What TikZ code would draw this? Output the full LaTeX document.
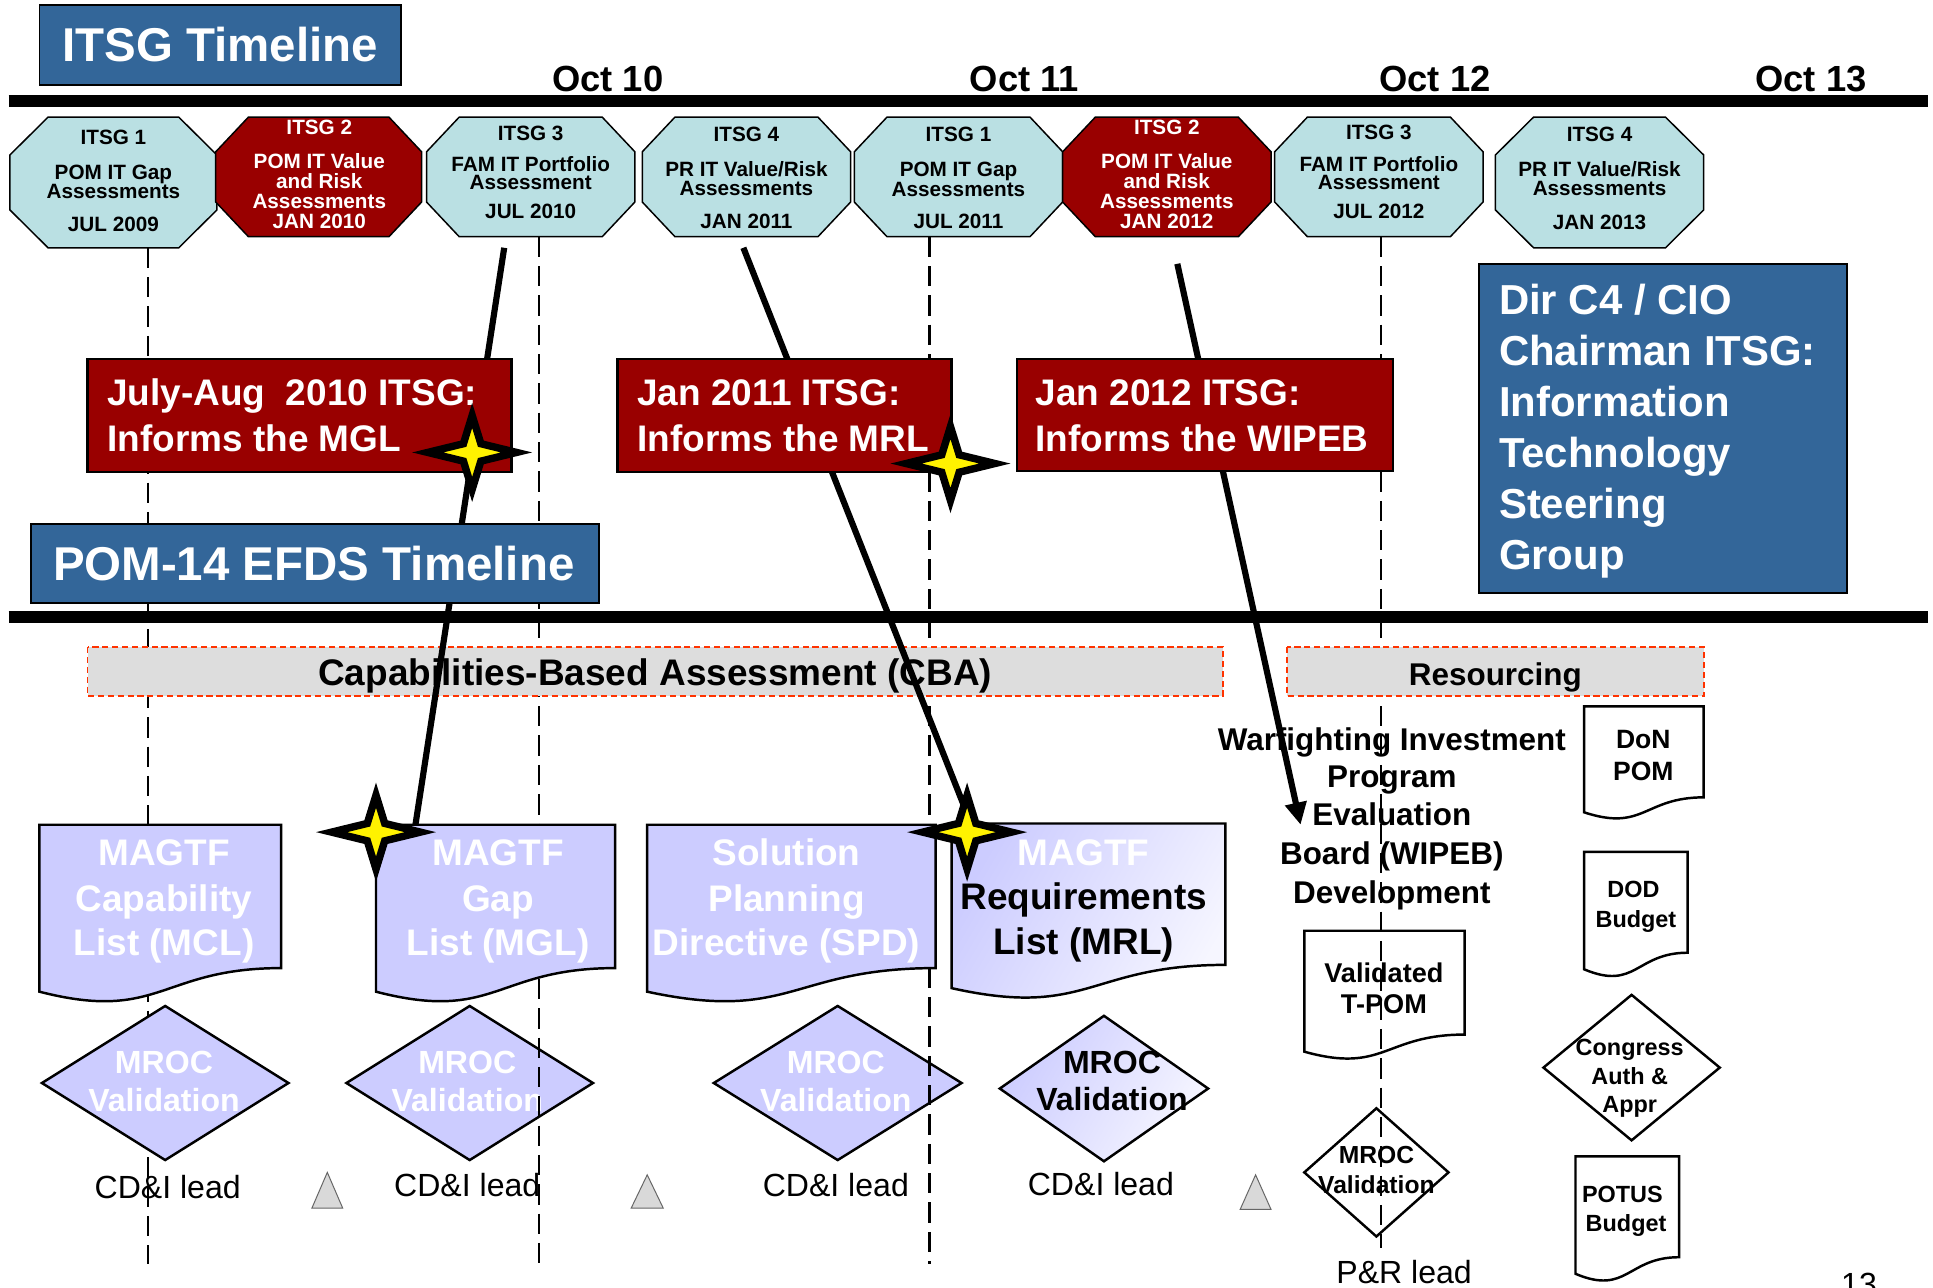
\documentclass[tikz,border=0pt]{standalone}
\usepackage{fontspec}
\setmainfont{Liberation Sans}
\usetikzlibrary{arrows.meta}
\definecolor{octblue}{RGB}{186,224,227}
\definecolor{itsgred}{RGB}{153,0,0}
\definecolor{hdrblue}{RGB}{51,102,153}
\definecolor{lav}{RGB}{204,204,255}
\definecolor{lavlight}{RGB}{246,246,255}
\definecolor{graybox}{RGB}{221,221,221}
\definecolor{dashred}{RGB}{255,51,0}
\definecolor{trifill}{RGB}{217,217,217}
\newcommand\fsz[1]{\fontsize{#1}{#1}\selectfont}
% octagon: style, x1, x2, ytop, ybottom, inset
\newcommand\octa[6]{\path[#1] ({#2+#6},#4) -- ({#3-#6},#4) -- (#3,{#4+0.29*(#5-#4)}) -- (#3,{#4+0.71*(#5-#4)}) -- ({#3-#6},#5) -- ({#2+#6},#5) -- (#2,{#4+0.71*(#5-#4)}) -- (#2,{#4+0.29*(#5-#4)}) -- cycle;}
% document: style, x, y, w, h
\newcommand\docshape[5]{\path[#1] (#2,#3) -- ({#2+#4},#3) -- ({#2+#4},{#3+0.802*#5}) .. controls ({#2+0.5*#4},{#3+0.802*#5}) and ({#2+0.5*#4},{#3+1.1075*#5}) .. (#2,{#3+0.934*#5}) -- cycle;}
% diamond: style, cx, cy, hw, hh
\newcommand\diam[5]{\path[#1] ({#2-#4},#3) -- (#2,{#3-#5}) -- ({#2+#4},#3) -- (#2,{#3+#5}) -- cycle;}
% four point star: cx, cy
\newcommand\fourstar[2]{\path[starst] ({#1+36},#2) -- ({#1+7.07},{#2+7.07}) -- (#1,{#2+30}) -- ({#1-7.07},{#2+7.07}) -- ({#1-36},#2) -- ({#1-7.07},{#2-7.07}) -- (#1,{#2-30}) -- ({#1+7.07},{#2-7.07}) -- cycle;}
\begin{document}
\begin{tikzpicture}[x=1pt,y=-1pt,
  every node/.style={inner sep=0pt,outer sep=0pt},
  octlight/.style={draw=black,line width=1.2pt,fill=octblue},
  octred/.style={draw=black,line width=1.2pt,fill=itsgred},
  octk/.style={anchor=base,text=black,font=\fsz{16.8}\bfseries},
  octw/.style={octk,text=white},
  vdash/.style={draw=black,line width=1.9pt,dash pattern=on 16.5pt off 7.3pt},
  bar/.style={draw=black,line width=10pt},
  phase/.style={fill=graybox,draw=dashred,line width=1.5pt,dash pattern=on 5pt off 3pt},
  conn/.style={draw=black,line width=5pt},
  redbox/.style={fill=itsgred,draw=black,line width=2pt},
  bluebox/.style={fill=hdrblue,draw=black,line width=1.5pt},
  docl/.style={fill=lav,draw=black,line width=2pt},
  docg/.style={draw=black,line width=2pt,top color=lav,bottom color=lavlight,shading angle=60},
  docw/.style={fill=white,draw=black,line width=2pt},
  starst/.style={fill=yellow,draw=black,line width=6pt,miter limit=20},
  tri/.style={fill=trifill,draw=black!60,line width=0.8pt},
  redtxt/.style={anchor=base west,text=white,font=\fsz{30}\bfseries},
  doctxt/.style={anchor=base,text=white,font=\fsz{30}\bfseries},
  diatxt/.style={anchor=base,text=white,font=\fsz{26}\bfseries},
  lead/.style={anchor=base,text=black,font=\fsz{26}},
  smalltxt/.style={anchor=base,text=black,font=\fsz{19}\bfseries}
]
\useasboundingbox (0,0) rectangle (1568,1044);
\clip (0,0) rectangle (1568,1044);
\fill[white] (0,0) rectangle (1568,1044);

% dashed line hidden behind the first column
\path[vdash] (120,201) -- (120,1025);

% documents and diamonds
\docshape{docl}{32}{669}{196}{145}
\docshape{docl}{305}{669}{194}{145}
\docshape{docl}{525}{669}{234}{145}
\docshape{docg}{772}{668}{222}{143}
\diam{docl}{134}{878.5}{100}{62.5}
\diam{docl}{381}{878.5}{100}{62.5}
\diam{docl}{679.5}{878.5}{100.5}{62.5}
\diam{docg}{895.5}{883}{84.5}{59}
\docshape{docw}{1058}{755}{130}{105}
\diam{docw}{1116.5}{951}{58.5}{52}
\docshape{docw}{1285}{573}{97}{92}
\docshape{docw}{1285}{691}{84}{102}
\diam{docw}{1323.5}{866}{71.5}{59}
\docshape{docw}{1278}{938}{84}{102}

% triangles
\path[tri] (265.5,951) -- (278,980) -- (253,980) -- cycle;
\path[tri] (525,953) -- (538,980) -- (512,980) -- cycle;
\path[tri] (1018.5,953) -- (1031,981) -- (1006,981) -- cycle;

% document texts
\foreach \yy/\tx [count=\i] in {702/MAGTF,739/Capability,775/List (MCL)}
  \node[doctxt] (mcl-\i) at (133,\yy) {\tx};
\foreach \yy/\tx [count=\i] in {702/MAGTF,739/Gap,775/List (MGL)}
  \node[doctxt] (mgl-\i) at (404,\yy) {\tx};
\foreach \yy/\tx [count=\i] in {702/Solution,739/Planning,775/Directive (SPD)}
  \node[doctxt] (spd-\i) at (638,\yy) {\tx};
\node[doctxt] (mrl-1) at (879,701.7) {MAGTF};
\node[doctxt,text=black] (mrl-2) at (879,738) {Requirements};
\node[doctxt,text=black] (mrl-3) at (879,774.6) {List (MRL)};
\foreach \xx/\nm in {133/a,379/b,678/c}{
  \node[diatxt] (mroc-\nm-1) at (\xx,870.4) {MROC};
  \node[diatxt] (mroc-\nm-2) at (\xx,902) {Validation};
}
\node[diatxt,text=black] (mroc-d-1) at (902,871) {MROC};
\node[diatxt,text=black] (mroc-d-2) at (902,901) {Validation};
\node[lead] (lead-a) at (136,972) {CD\&I lead};
\node[lead] (lead-b) at (379,970.5) {CD\&I lead};
\node[lead] (lead-c) at (678,970.5) {CD\&I lead};
\node[lead] (lead-d) at (893,970) {CD\&I lead};
\node[lead] (lead-e) at (1139,1041) {P\&R lead};
\node[lead] (pagenum) at (1508,1050.6) {13};

% resourcing texts
\foreach \yy/\tx [count=\i] in {609/Warfighting Investment,639/Program,670/Evaluation,701.6/Board (WIPEB),732.5/Development}
  \node[anchor=base,font=\fsz{25.5}\bfseries] (wipeb-\i) at (1129,\yy) {\tx};
\node[anchor=base,font=\fsz{22}\bfseries] (tpom-1) at (1122.6,796.6) {Validated};
\node[anchor=base,font=\fsz{22}\bfseries] (tpom-2) at (1122.6,822.5) {T-POM};
\node[anchor=base,font=\fsz{20}\bfseries] (prmroc-1) at (1116.5,944) {MROC};
\node[anchor=base,font=\fsz{20}\bfseries] (prmroc-2) at (1116.5,968.5) {Validation};
\node[anchor=base,font=\fsz{21.5}\bfseries] (don-1) at (1333,607) {DoN};
\node[anchor=base,font=\fsz{21.5}\bfseries] (don-2) at (1333,633) {POM};
\node[smalltxt] (dod-1) at (1325,728.4) {DOD};
\node[smalltxt] (dod-2) at (1327,752) {Budget};
\node[smalltxt] (cong-1) at (1322,856) {Congress};
\node[smalltxt] (cong-2) at (1322,879.5) {Auth \&};
\node[smalltxt] (cong-3) at (1322,902.8) {Appr};
\node[smalltxt] (potus-1) at (1316,975.8) {POTUS};
\node[smalltxt] (potus-2) at (1319,999) {Budget};

% dashed lines drawn over the documents
\path[vdash] (437,192) -- (437,669);
\path[vdash] (437,794) -- (437,1025);
\path[vdash] (754,192) -- (754,669);
\path[vdash] (754,785) -- (754,1025);
\path[vdash] (1120,192) -- (1120,1012);

% octagons
\octa{octlight}{8}{176}{95}{201}{31}
\octa{octred}{175}{342}{95}{192}{26.5}
\octa{octlight}{346}{515}{95}{192}{26.5}
\octa{octlight}{521}{690}{95}{192}{26.5}
\octa{octlight}{693}{862}{95}{192}{26.5}
\octa{octred}{862}{1031}{95}{192}{26.5}
\octa{octlight}{1034}{1203}{95}{192}{26.5}
\octa{octlight}{1213}{1382}{95}{201}{31}
\foreach \yy/\tx [count=\i] in {117.6/ITSG 1,146/POM IT Gap,160.9/Assessments,187.9/JUL 2009}
  \node[octk] (o1-\i) at (92,\yy) {\tx};
\foreach \yy/\tx [count=\i] in {109.5/ITSG 2,136.5/POM IT Value,152.8/and Risk,169.5/Assessments,185.2/JAN 2010}
  \node[octw] (o2-\i) at (259,\yy) {\tx};
\foreach \yy/\tx [count=\i] in {113.6/ITSG 3,139.3/FAM IT Portfolio,154.1/Assessment,177.6/JUL 2010}
  \node[octk] (o3-\i) at (430.5,\yy) {\tx};
\foreach \yy/\tx [count=\i] in {114.9/ITSG 4,142.8/{PR IT Value/Risk},158.7/Assessments,185.2/JAN 2011}
  \node[octk] (o4-\i) at (605.5,\yy) {\tx};
\foreach \yy/\tx [count=\i] in {114.9/ITSG 1,142.8/POM IT Gap,159.5/Assessments,185.2/JUL 2011}
  \node[octk] (o5-\i) at (777.5,\yy) {\tx};
\foreach \yy/\tx [count=\i] in {109.5/ITSG 2,136.5/POM IT Value,152.8/and Risk,169.5/Assessments,185.2/JAN 2012}
  \node[octw] (o6-\i) at (946.5,\yy) {\tx};
\foreach \yy/\tx [count=\i] in {113/ITSG 3,139.3/FAM IT Portfolio,153.6/Assessment,177.6/JUL 2012}
  \node[octk] (o7-\i) at (1118.5,\yy) {\tx};
\foreach \yy/\tx [count=\i] in {114.9/ITSG 4,142.8/{PR IT Value/Risk},158.7/Assessments,185.8/JAN 2013}
  \node[octk] (o8-\i) at (1297.5,\yy) {\tx};

% timeline bars and month labels
\coordinate (barA-w) at (7,82);
\coordinate (barA-e) at (1564,82);
\coordinate (barB-w) at (7,500.3);
\coordinate (barB-e) at (1564,500.3);
\path[bar] (barA-w) -- (barA-e);
\path[bar,line width=9.5pt] (barB-w) -- (barB-e);
\foreach \xx/\tx in {493/Oct 10,831/Oct 11,1164/Oct 12,1469/Oct 13}
  \node[anchor=base,font=\fsz{29.5}\bfseries] (lbl-\xx) at (\xx,74.5) {\tx};

% phase boxes
\path[phase] (71,525) rectangle (992,564.5);
\path[phase] (1044,525) rectangle (1382,564.5);
\node[anchor=base,font=\fsz{30}\bfseries] (cba) at (531.5,556) {Capabilities-Based Assessment (CBA)};
\node[anchor=base,font=\fsz{25.5}\bfseries] (resourcing) at (1213,556) {Resourcing};

% connectors
\coordinate (c1-start) at (409,201);
\coordinate (c1-end) at (337,669);
\coordinate (c2-start) at (603,201);
\coordinate (c2-end) at (786,664);
\coordinate (c3-start) at (955,214);
\coordinate (c3-end) at (1055,669);
\path[conn] (c1-start) -- (c1-end);
\path[conn] (c2-start) -- (c2-end);
\path[conn,-{Triangle[length=18pt,width=17pt]}] (c3-start) -- (c3-end);

% red ITSG boxes
\path[redbox] (71,291) rectangle (415,383);
\path[redbox] (501,291) rectangle (772,383);
\path[redbox] (825,291) rectangle (1130,382);
\node[redtxt] (r1-1) at (87,329) {July-Aug\ \ 2010 ITSG:};
\node[redtxt] (r1-2) at (87,366) {Informs the MGL};
\node[redtxt] (r2-1) at (517,329) {Jan 2011 ITSG:};
\node[redtxt] (r2-2) at (517,366) {Informs the MRL};
\node[redtxt] (r3-1) at (840,329) {Jan 2012 ITSG:};
\node[redtxt] (r3-2) at (840,366) {Informs the WIPEB};

% blue title boxes
\path[bluebox] (32,4) rectangle (325,69);
\node[anchor=base,text=white,font=\fsz{38.5}\bfseries] (itsgtitle) at (178.5,50) {ITSG Timeline};
\path[bluebox] (25,425) rectangle (486,489);
\node[anchor=base,text=white,font=\fsz{38.5}\bfseries] (pomtitle) at (254.5,470.5) {POM-14 EFDS Timeline};
\path[bluebox] (1200,214) rectangle (1498,481);
\foreach \yy/\tx [count=\i] in {255.5/Dir C4 {/} CIO,296.8/Chairman ITSG:,338.1/Information,379.4/Technology,420.7/Steering,462/Group}
  \node[anchor=base west,text=white,font=\fsz{34}\bfseries] (dir-\i) at (1216,\yy) {\tx};

% stars
\fourstar{383}{367}
\fourstar{771}{376}
\fourstar{305}{675}
\fourstar{784.5}{675}
\end{tikzpicture}
\end{document}
